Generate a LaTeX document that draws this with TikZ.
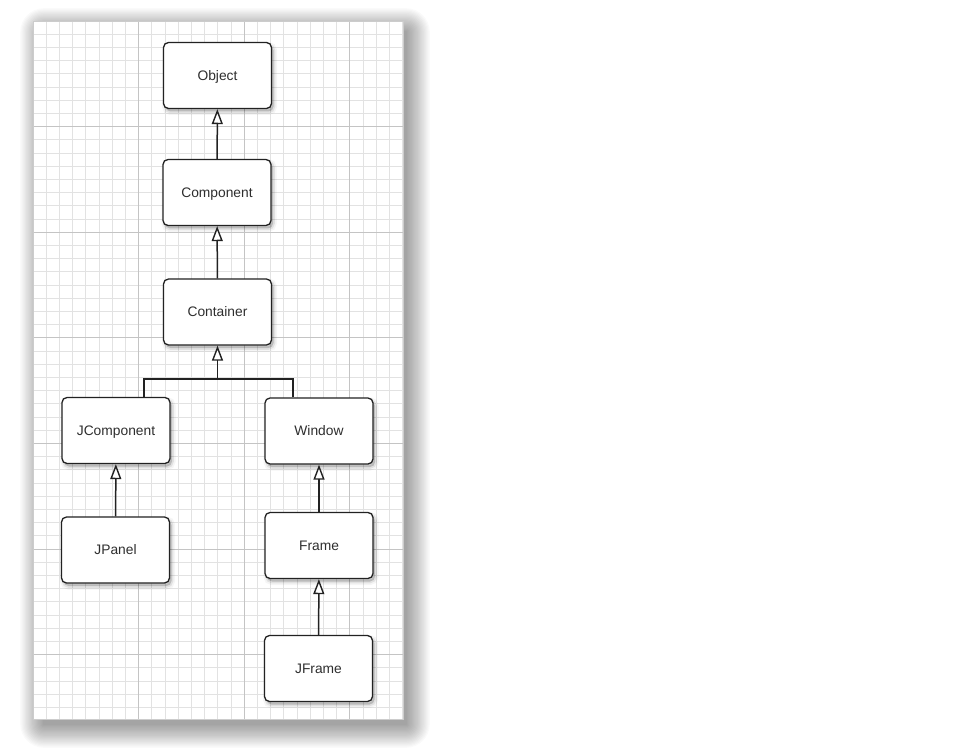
\documentclass[tikz,border=0pt]{standalone}
\usepackage{fontspec}
\setmainfont{Liberation Sans}
\usetikzlibrary{arrows.meta}
\definecolor{txt}{HTML}{2E2E2E}
\definecolor{minorg}{HTML}{E2E2E2}
\definecolor{majorg}{HTML}{C4C4C4}
\definecolor{edge}{HTML}{222222}
\tikzset{
  classbox/.style={rectangle, rounded corners=5pt, minimum width=108pt, minimum height=66pt,
    draw=edge, line width=1.3pt, fill=white, text=txt, font=\fontsize{13.8}{16}\selectfont,
    text height=9.9pt, text depth=0pt,
    preaction={draw=black, draw opacity=0.04, line width=7pt, fill=black, fill opacity=0.06,
      transform canvas={shift={(2pt,-3pt)}}},
    preaction={draw=black, draw opacity=0.08, line width=3.5pt, fill=black, fill opacity=0.12,
      transform canvas={shift={(2pt,-3pt)}}}},
  inherit/.style={draw=edge, line width=1.5pt, -{Triangle[length=15pt,width=11pt,fill=white,line width=1.4pt]}},
  link/.style={draw=edge, line width=1.5pt},
  minorline/.style={draw=minorg, line width=0.8pt},
  majorline/.style={draw=majorg, line width=1pt}
}
\begin{document}
\begin{tikzpicture}[x=1pt,y=-1pt]
\useasboundingbox (0,0) rectangle (960,751);
\fill[white] (0,0) rectangle (960,751);
% paper shadow
\foreach \k in {0,...,19}{
  \fill[black, opacity=0.02, rounded corners={1pt+\k*1.2pt}]
    ({43-\k*1.2},{31-\k*1.2}) rectangle ({407+\k*1.2},{725+\k*1.2});
}
% paper
\fill[white] (33,21) rectangle (403,719);
\begin{scope}
\clip (33,21) rectangle (403,719);
\foreach \i in {0,...,28}{
  \draw[minorline] ({33+\i*13.2},21) -- ({33+\i*13.2},719);
}
\foreach \i in {0,...,53}{
  \draw[minorline] (33,{21+\i*13.2}) -- (403,{21+\i*13.2});
}
\foreach \i in {1,...,3}{
  \draw[majorline] ({33+\i*105.6},21) -- ({33+\i*105.6},719);
}
\foreach \i in {1,...,6}{
  \draw[majorline] (33,{21+\i*105.6}) -- (403,{21+\i*105.6});
}
\end{scope}
\draw[black!20, line width=0.6pt] (33,21) rectangle (403,719);

% class boxes
\node[classbox] (object) at (217.5,75.5) {Object};
\node[classbox] (component) at (217,192.5) {Component};
\node[classbox] (container) at (217.5,312) {Container};
\node[classbox] (jcomponent) at (116,430.5) {JComponent};
\node[classbox] (window) at (319,431) {Window};
\node[classbox] (jpanel) at (115.5,550) {JPanel};
\node[classbox] (frame) at (319,545.5) {Frame};
\node[classbox] (jframe) at (318.5,668.5) {JFrame};

% connectors
\draw[inherit] (component) -- (object);
\draw[inherit] (container) -- (component);
\coordinate (join) at (217.5,379);
\draw[link] ([xshift=28pt]jcomponent.north) |- (join);
\draw[link] ([xshift=-26pt]window.north) |- (join);
\draw[inherit] (join) -- (container.south);
\draw[inherit] (jpanel) -- (jcomponent);
\draw[inherit] (frame) -- (window);
\draw[inherit] (jframe) -- (frame);
\end{tikzpicture}
\end{document}
